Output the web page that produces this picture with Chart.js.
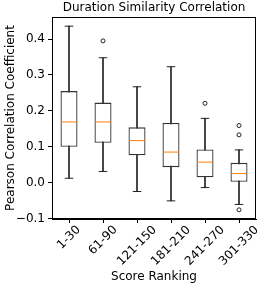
<!DOCTYPE html>
<html><head><meta charset="utf-8">
<script src="https://cdn.jsdelivr.net/npm/chart.js@4/dist/chart.umd.min.js"></script>
<style>html,body{margin:0;padding:0;background:#fff}#wrap{width:266px;height:287px}</style>
</head><body><div id="wrap"><canvas id="c" width="266" height="287"></canvas></div>
<script>
const chartTitle = 'Duration Similarity Correlation';
const categories = ['1-30','61-90','121-150','181-210','241-270','301-330'];
const whiskerLow  = [0.012, 0.031, -0.025, -0.051, -0.014, -0.061];
const q1          = [0.100, 0.111, 0.076, 0.043, 0.015, 0.002];
const medians     = [0.169, 0.169, 0.117, 0.085, 0.057, 0.025];
const q3          = [0.255, 0.223, 0.154, 0.166, 0.092, 0.055];
const whiskerHigh = [0.436, 0.348, 0.267, 0.323, 0.179, 0.091];
const outlierCats = ['61-90','241-270','301-330','301-330','301-330'];
const outlierVals = [0.395, 0.221, 0.159, 0.133, -0.076];
const yTicks = [-0.1, 0.0, 0.1, 0.2, 0.3, 0.4];

const frame = {
  id: 'frame',
  beforeDraw(chart) {
    const s = chart.scales.x;
    const items = s.getLabelItems(chart.chartArea);
    const ctx = chart.ctx;
    ctx.save(); ctx.font = '12px "DejaVu Sans"';
    items.forEach((it, i) => {
      const L = ctx.measureText(String(it.label)).width;
      it.textOffset = 0;
      it.options.textAlign = 'center';
      it.options.textBaseline = 'middle';
      it.options.translation = [s.getPixelForTick(i), s.top + 9 + L * 0.354];
    });
    ctx.restore();
  },
  afterDatasetsDraw(chart) {
    const a = chart.chartArea, ctx = chart.ctx;
    ctx.save(); ctx.strokeStyle = '#000'; ctx.lineWidth = 1;
    ctx.strokeRect(Math.round(a.left) + 0.5, Math.round(a.top) + 0.5, Math.round(a.right - a.left) - 1, Math.round(a.bottom - a.top) - 1);
    ctx.fillStyle = '#000';
    ctx.font = '12px "DejaVu Sans"';
    ctx.textAlign = 'center'; ctx.textBaseline = 'alphabetic';
    ctx.fillText(chartTitle, (a.left + a.right) / 2, a.top - 6);
    ctx.restore();
  }
};

new Chart(document.getElementById('c'), {
  data: {
    labels: categories,
    datasets: [
      { type: 'bar', data: whiskerLow.map((v, i) => [v, whiskerHigh[i]]), backgroundColor: '#222', barThickness: 1, grouped: false, order: 5 },
      { type: 'bar', data: q1.map((v, i) => [v, q3[i]]), backgroundColor: '#fff', borderColor: '#333', borderWidth: 1.3, borderSkipped: false, barPercentage: 0.5, categoryPercentage: 1, grouped: false, order: 4 },
      { type: 'line', data: whiskerLow, showLine: false, pointStyle: 'line', pointRadius: 4.25, borderColor: '#222', borderWidth: 1, order: 2 },
      { type: 'line', data: whiskerHigh, showLine: false, pointStyle: 'line', pointRadius: 4.25, borderColor: '#222', borderWidth: 1, order: 2 },
      { type: 'line', data: medians, showLine: false, pointStyle: 'line', pointRadius: 8, borderColor: '#ff7f0e', borderWidth: 1, order: 1 },
      { type: 'line', data: outlierCats.map((c, i) => ({ x: c, y: outlierVals[i] })), showLine: false, pointStyle: 'circle', pointRadius: 2, borderColor: '#222', backgroundColor: 'rgba(0,0,0,0)', borderWidth: 1, order: 1 }
    ]
  },
  options: {
    responsive: false, animation: false, events: [],
    layout: { padding: { top: 17, right: 10, bottom: 3, left: 4 } },
    plugins: { legend: { display: false }, tooltip: { enabled: false }, title: { display: false } },
    scales: {
      x: {
        offset: true,
        afterFit: s => { s.height = 65; },
        grid: { display: true, drawOnChartArea: false, drawTicks: true, tickLength: 4, color: '#000', offset: false },
        border: { display: true, color: '#000' },
        ticks: { color: '#000', font: { family: 'DejaVu Sans', size: 12 }, maxRotation: 45, minRotation: 45, padding: 1, autoSkip: false },
        title: { display: true, text: 'Score Ranking', color: '#000', font: { family: 'DejaVu Sans', size: 12 }, padding: { top: 0, bottom: 0 } }
      },
      y: {
        min: -0.1016, max: 0.4616,
        afterBuildTicks: s => { s.ticks = yTicks.map(v => ({ value: v })); },
        afterFit: s => { s.width = 48; },
        grid: { display: true, drawOnChartArea: false, drawTicks: true, tickLength: 4, color: '#000' },
        border: { display: true, color: '#000' },
        ticks: { color: '#000', font: { family: 'DejaVu Sans', size: 12 }, padding: 3,
          callback: v => (Math.abs(v) < 1e-9 ? '0.0' : v.toFixed(1).replace('-', '\u2212')) },
        title: { display: true, text: 'Pearson Correlation Coefficient', color: '#000', font: { family: 'DejaVu Sans', size: 12 }, padding: { top: 0, bottom: 2 } }
      }
    }
  },
  plugins: [frame]
});
</script></body></html>
